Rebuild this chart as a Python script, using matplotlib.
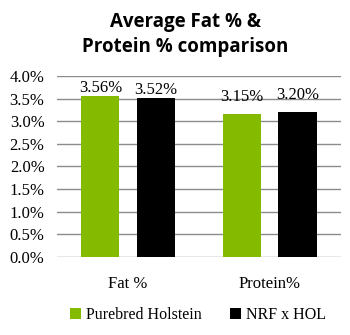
import numpy as np
import matplotlib.pyplot as plt

categories = ['Fat %', 'Protein%']
holstein = [3.56, 3.15]
nrf_hol = [3.52, 3.20]
series_names = ['Purebred Holstein', 'NRF x HOL']
# labels of the protein group sit a bit higher in the original
label_lift = [0.0, 0.2]

serif = ['Liberation Serif', 'DejaVu Serif']

fig = plt.figure(figsize=(3.5, 3.35), dpi=100)
ax = fig.add_axes([0.163, 0.233, 0.811, 0.54])

x = np.arange(len(categories))
w = 0.27
b1 = ax.bar(x - 0.195, holstein, w, color='#84ba00', label=series_names[0], zorder=3)
b2 = ax.bar(x + 0.195, nrf_hol, w, color='#000000', label=series_names[1], zorder=3)

for bars, vals in ((b1, holstein), (b2, nrf_hol)):
    for i, (r, v) in enumerate(zip(bars, vals)):
        ax.text(r.get_x() + r.get_width() / 2, v + label_lift[i], f'{v:.2f}%',
                ha='center', va='bottom', fontsize=12, family=serif)

ax.set_xlim(-0.5, 1.5)
ax.set_ylim(0, 4.0)
yt = np.arange(0, 4.01, 0.5)
ax.set_yticks(yt)
ax.set_yticklabels([f'{v:.1f}%' for v in yt], family=serif, fontsize=12)
ax.set_xticks(x)
ax.set_xticklabels(categories, family=serif, fontsize=12)
ax.tick_params(length=0)
ax.tick_params(axis='y', pad=9)
ax.tick_params(axis='x', pad=14)
ax.grid(axis='y', color='#8c8c8c', linewidth=1, zorder=0)
for s in ax.spines.values():
    s.set_visible(False)

fig.text(0.53, 0.935, 'Average Fat % &', ha='center', va='center',
         fontsize=13.5, fontweight='bold', family='Open Sans')
fig.text(0.53, 0.86, 'Protein % comparison', ha='center', va='center',
         fontsize=13.5, fontweight='bold', family='Open Sans')

leg = fig.legend(loc='center', bbox_to_anchor=(0.565, 0.06), ncol=2, frameon=False,
                 prop={'family': serif, 'size': 11.5}, handlelength=0.7, handleheight=0.7,
                 handletextpad=0.3, columnspacing=1.75)

fig.savefig('out.png', dpi=100)
